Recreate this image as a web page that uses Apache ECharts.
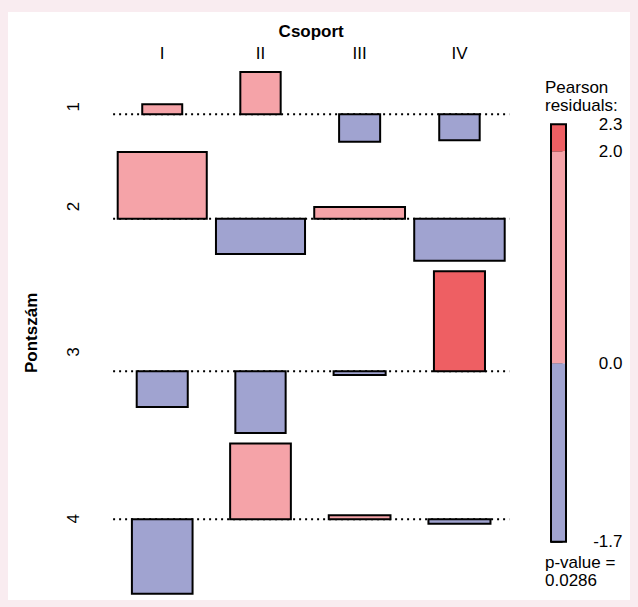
<!DOCTYPE html>
<html>
<head>
<meta charset="utf-8">
<title>Pontszám × Csoport – association plot</title>
<script src="https://cdn.jsdelivr.net/npm/echarts@6/dist/echarts.min.js"></script>
<style>
  html, body { margin: 0; padding: 0; background: #f9ecf0; }
  #panel { position: absolute; left: 8px; top: 12px; width: 622px; height: 588px; background: #fff; }
  #chart { position: absolute; left: 0; top: 0; width: 638px; height: 607px; }
</style>
</head>
<body>
<div id="panel"></div>
<div id="chart"></div>
<script>
const groups = ['I', 'II', 'III', 'IV']   // Csoport (columns)
const scores = ['1', '2', '3', '4']       // Pontszám (rows)

// expected counts, row = score, column = group
const expected = [
  [1.70, 1.73, 1.79, 1.74],
  [8.43, 8.43, 8.76, 8.70],
  [2.77, 2.69, 2.88, 2.77],
  [3.91, 3.92, 4.05, 4.09],
]
// Pearson residuals, same layout
const residuals = [
  [0.225, 0.954, -0.618, -0.586],
  [1.504, -0.796, 0.264, -0.947],
  [-0.812, -1.398, -0.090, 2.256],
  [-1.684, 1.707, 0.090, -0.106],
]
const pValue = 0.0286

// shading intervals of the residuals
const shadeBreaks = [-4, -2, 0, 2, 4]
const shadeColors = ['#6b74c2', '#a0a3d0', '#f5a3a8', '#ee5f63']

const FONT = 'Liberation Sans, Arial, Helvetica, sans-serif'
const COL_GAP = 0.3    // sqrt(expected) units
const ROW_GAP = 0.235  // residual units

function shade(r) {
  for (let k = 0; k < shadeColors.length; k++) {
    if (r < shadeBreaks[k + 1]) return shadeColors[k]
  }
  return shadeColors[shadeColors.length - 1]
}

// column layout: width = largest sqrt(expected) in the column
const sqrtE = expected.map((row) => row.map(Math.sqrt))
const colW = groups.map((_, j) => Math.max(...sqrtE.map((row) => row[j])))
const colCenter = []
let xPos = 0
colW.forEach((w) => {
  colCenter.push(xPos + w / 2)
  xPos += w + COL_GAP
})
const xMax = xPos - COL_GAP

// row layout: height = largest positive + largest negative residual
const rowUp = residuals.map((row) => Math.max(0, ...row))
const rowDown = residuals.map((row) => Math.max(0, ...row.map((v) => -v)))
const rowBase = []
const rowMid = []
let yPos = 0
scores.forEach((_, i) => {
  rowBase.push(yPos + rowUp[i])
  rowMid.push(yPos + (rowUp[i] + rowDown[i]) / 2)
  yPos += rowUp[i] + rowDown[i] + ROW_GAP
})
const yMax = yPos - ROW_GAP

const cells = []
residuals.forEach((row, i) => row.forEach((r, j) => cells.push([j, i, sqrtE[i][j], r])))

const allRes = residuals.flat()
const resMin = Math.min(...allRes)
const resMax = Math.max(...allRes)
const legendTicks = [resMax, 2, 0, resMin].filter((v) => v >= resMin && v <= resMax)

const legendSegs = []
for (let k = 0; k < shadeColors.length; k++) {
  const lo = Math.max(shadeBreaks[k], resMin)
  const hi = Math.min(shadeBreaks[k + 1], resMax)
  if (lo < hi) legendSegs.push([lo, hi, k])
}

function nearest(list, v) {
  let best = 0
  list.forEach((c, k) => {
    if (Math.abs(c - v) < Math.abs(list[best] - v)) best = k
  })
  return best
}

function rectBetween(p0, p1) {
  return {
    x: Math.min(p0[0], p1[0]),
    y: Math.min(p0[1], p1[1]),
    width: Math.abs(p1[0] - p0[0]),
    height: Math.abs(p1[1] - p0[1]),
  }
}

const chart = echarts.init(document.getElementById('chart'), null, { renderer: 'svg' })

chart.setOption({
  backgroundColor: 'transparent',
  animation: false,
  textStyle: { fontFamily: FONT },
  title: [
    {
      text: 'Pearson\nresiduals:',
      left: 545,
      top: 79,
      padding: 0,
      textStyle: { fontSize: 17, fontWeight: 'normal', color: '#000', lineHeight: 17.5, fontFamily: FONT },
    },
    {
      text: 'p-value =\n' + pValue.toFixed(4),
      left: 545,
      top: 553,
      padding: 0,
      textStyle: { fontSize: 17, fontWeight: 'normal', color: '#000', lineHeight: 18, fontFamily: FONT },
    },
  ],
  grid: [
    { left: 113.1, right: 128.7, top: 72, bottom: 13.2, outerBoundsMode: 'none' },
    { left: 551, width: 15, top: 124.3, height: 417.4, outerBoundsMode: 'none' },
  ],
  xAxis: [
    {
      type: 'value',
      gridIndex: 0,
      position: 'top',
      min: -COL_GAP / 2,
      max: xMax + COL_GAP / 2,
      splitLine: { show: false },
      axisLine: { show: false },
      axisTick: { show: false },
      axisLabel: {
        customValues: colCenter,
        formatter: (v) => groups[nearest(colCenter, v)],
        margin: 10,
        color: '#000',
        fontSize: 17,
        fontFamily: FONT,
      },
      name: 'Csoport',
      nameLocation: 'middle',
      nameGap: 32,
      nameTextStyle: { fontWeight: 'bold', fontSize: 17, color: '#000', fontFamily: FONT },
    },
    { type: 'value', gridIndex: 1, min: 0, max: 1, show: false },
  ],
  yAxis: [
    {
      type: 'value',
      gridIndex: 0,
      inverse: true,
      min: 0,
      max: yMax,
      splitLine: { show: false },
      axisLine: { show: false },
      axisTick: { show: false },
      axisLabel: {
        customValues: rowMid,
        formatter: (v) => scores[nearest(rowMid, v)],
        rotate: 90,
        margin: 31,
        color: '#000',
        fontSize: 17,
        fontFamily: FONT,
      },
      name: 'Pontszám',
      nameLocation: 'middle',
      nameGap: 73,
      nameTextStyle: { fontWeight: 'bold', fontSize: 17, color: '#000', fontFamily: FONT },
    },
    {
      type: 'value',
      gridIndex: 1,
      position: 'right',
      min: resMin,
      max: resMax,
      splitLine: { show: false },
      axisLine: { show: false },
      axisTick: {
        show: true,
        customValues: legendTicks,
        length: 11.6,
        lineStyle: { color: '#000', width: 1.6 },
      },
      axisLabel: {
        customValues: legendTicks,
        formatter: (v) => v.toFixed(1),
        align: 'right',
        margin: 56.5,
        color: '#000',
        fontSize: 17,
        lineHeight: 17,
        fontFamily: FONT,
      },
    },
  ],
  series: [
    {
      name: 'baselines',
      type: 'custom',
      xAxisIndex: 0,
      yAxisIndex: 0,
      z: 1,
      data: rowBase.map((_, i) => [i]),
      renderItem: (params, api) => {
        const i = api.value(0)
        const a = api.coord([-COL_GAP / 2, rowBase[i]])
        const b = api.coord([xMax + COL_GAP / 2, rowBase[i]])
        return {
          type: 'line',
          shape: { x1: a[0], y1: a[1], x2: b[0], y2: b[1] },
          style: { stroke: '#000', lineWidth: 2, lineDash: [2, 4] },
        }
      },
    },
    {
      name: 'residuals',
      type: 'custom',
      xAxisIndex: 0,
      yAxisIndex: 0,
      z: 2,
      data: cells,
      renderItem: (params, api) => {
        const j = api.value(0)
        const i = api.value(1)
        const w = api.value(2)
        const r = api.value(3)
        const p0 = api.coord([colCenter[j] - w / 2, rowBase[i]])
        const p1 = api.coord([colCenter[j] + w / 2, rowBase[i] - r])
        return {
          type: 'rect',
          shape: rectBetween(p0, p1),
          style: { fill: shade(r), stroke: '#000', lineWidth: 2 },
        }
      },
    },
    {
      name: 'legend',
      type: 'custom',
      xAxisIndex: 1,
      yAxisIndex: 1,
      z: 2,
      data: legendSegs,
      renderItem: (params, api) => {
        const p0 = api.coord([0, api.value(0)])
        const p1 = api.coord([1, api.value(1)])
        return {
          type: 'rect',
          shape: rectBetween(p0, p1),
          style: { fill: shadeColors[api.value(2)] },
        }
      },
    },
    {
      name: 'legend frame',
      type: 'custom',
      xAxisIndex: 1,
      yAxisIndex: 1,
      z: 3,
      data: [[resMin, resMax]],
      renderItem: (params, api) => {
        const p0 = api.coord([0, api.value(0)])
        const p1 = api.coord([1, api.value(1)])
        return {
          type: 'rect',
          shape: rectBetween(p0, p1),
          style: { fill: 'none', stroke: '#000', lineWidth: 2 },
        }
      },
    },
  ],
})
</script>
</body>
</html>
